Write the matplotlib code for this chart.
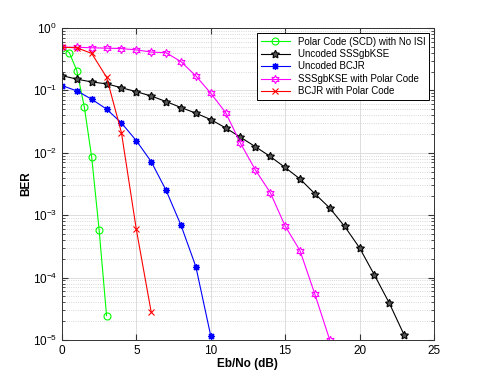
import matplotlib
matplotlib.use('Agg')
import matplotlib.pyplot as plt
import numpy as np

plt.rcParams['font.family'] = ['Liberation Sans', 'DejaVu Sans']

# Eb/No (dB) and BER values
x_polar = [0, 0.5, 1, 1.5, 2, 2.5, 3]
ber_polar = [0.48, 0.40, 0.207, 0.055, 0.0085, 5.8e-4, 2.45e-5]

x_sss = list(range(0, 24))
ber_sss = [0.172, 0.151, 0.136, 0.127, 0.110, 0.095, 0.081, 0.066, 0.053, 0.043,
           0.034, 0.025, 0.0177, 0.0125, 0.0087, 0.0058, 0.0038, 0.0022, 0.0013,
           6.6e-4, 3.0e-4, 1.1e-4, 3.9e-5, 1.2e-5]

x_bcjr = list(range(0, 11))
ber_bcjr = [0.119, 0.098, 0.072, 0.050, 0.030, 0.0156, 0.0072, 0.0025, 6.9e-4,
            1.5e-4, 1.17e-5]

x_sss_pc = list(range(0, 19))
ber_sss_pc = [0.49, 0.49, 0.48, 0.473, 0.466, 0.444, 0.41, 0.40, 0.288, 0.17,
              0.090, 0.044, 0.0142, 0.0053, 0.0023, 6.7e-4, 2.7e-4, 5.4e-5, 1.0e-5]

x_bcjr_pc = list(range(0, 7))
ber_bcjr_pc = [0.49, 0.48, 0.39, 0.162, 0.021, 5.9e-4, 2.8e-5]

fig = plt.figure(figsize=(4.8, 3.82), dpi=100)
ax = fig.add_axes([0.129, 0.11, 0.775, 0.817])

lw = 0.8
ax.semilogy(x_polar, ber_polar, '-', color='#00ff00', lw=lw, marker='o', ms=5,
            mfc='none', mew=0.8, label='Polar Code (SCD) with No ISI')
ax.semilogy(x_sss, ber_sss, '-', color='black', lw=lw, marker=(5, 1, 0), ms=6,
            mfc='#555555', mew=0.8, label='Uncoded SSSgbKSE')
ax.semilogy(x_bcjr, ber_bcjr, '-', color='blue', lw=lw, marker=(8, 2, 0), ms=5,
            mew=0.9, label='Uncoded BCJR')
ax.semilogy(x_sss_pc, ber_sss_pc, '-', color='#ff00ff', lw=lw, marker=(6, 1, 0), ms=6,
            mfc='none', mew=0.8, label='SSSgbKSE with Polar Code')
ax.semilogy(x_bcjr_pc, ber_bcjr_pc, '-', color='red', lw=lw, marker='x', ms=4.5,
            mew=0.8, label='BCJR with Polar Code')

ax.set_xlim(0, 25)
ax.set_ylim(1e-5, 1)
ax.set_xticks([0, 5, 10, 15, 20, 25])
ax.set_yticks([1e-5, 1e-4, 1e-3, 1e-2, 1e-1, 1])
ax.grid(True, which='major', color='#dddddd', lw=0.7)
ax.grid(True, which='minor', color='#cccccc', ls=':', lw=0.6)
ax.tick_params(which='both', direction='in', top=True, right=True, labelsize=8.5,
               color='#333333')
ax.tick_params(which='major', length=4)
ax.tick_params(which='minor', length=2)
for s in ax.spines.values():
    s.set_color('#333333')
    s.set_linewidth(0.7)

ax.set_xlabel('Eb/No (dB)', fontsize=8.5, fontweight='bold', labelpad=1)
ax.set_ylabel('BER', fontsize=8.5, fontweight='bold', labelpad=0)

leg = ax.legend(loc='upper right', fontsize=7, fancybox=False, framealpha=1,
                edgecolor='black', borderaxespad=0.5, handlelength=3,
                labelspacing=0.25, borderpad=0.4)
leg.get_frame().set_linewidth(0.7)

fig.savefig('out.png', dpi=100)
